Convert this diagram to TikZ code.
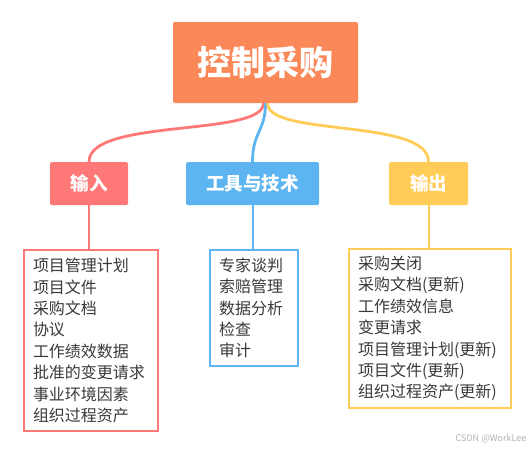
\documentclass[tikz,border=0pt]{standalone}
\usepackage{fontspec}
\setmainfont{Noto Sans CJK SC}
\usepackage{tikz}
\usepackage{xcolor}

\definecolor{mainorange}{HTML}{FA8858}
\definecolor{inred}{HTML}{FF7878}
\definecolor{toolblue}{HTML}{5CB5F0}
\definecolor{outyellow}{HTML}{FFCC58}
\definecolor{textgray}{HTML}{3A3A3A}

\begin{document}
\begin{tikzpicture}[x=1pt, y=-1pt,
  catbox/.style={fill=#1, text=white, font=\fontsize{18.5}{20}\selectfont\bfseries,
    minimum height=43pt, inner sep=0pt, rounded corners=1.5pt},
  listbox/.style={draw=#1, line width=2pt, fill=white, anchor=north west, align=left,
    inner xsep=9pt, inner ysep=0pt, text=textgray, font=\fontsize{16}{21.4}\selectfont},
  branch/.style={draw=#1, line width=2.8pt},
  stem/.style={draw=#1, line width=2pt}]
\useasboundingbox (0,0) rectangle (531,450);

% centre topic
\node[fill=mainorange, text=white, font=\fontsize{34}{36}\selectfont\bfseries,
  minimum width=185pt, minimum height=81pt, rounded corners=2pt] (main) at (265.5,62.5) {控制采购};

% the three categories
\foreach \name/\txt/\col/\x/\w in {input/输入/inred/89/78, tools/工具与技术/toolblue/252.5/133, output/输出/outyellow/428.5/79} {
  \node[catbox=\col, minimum width=\w pt] (\name) at (\x,183.5) {\txt};
}

% branches from the centre topic
\draw[branch=inred] ([xshift=-2pt]main.south) .. controls +(0,34) and +(0,-44) .. (input.north);
\draw[branch=toolblue] (main.south) .. controls +(0,28) and +(0,-30) .. (tools.north);
\draw[branch=outyellow] ([xshift=2pt]main.south) .. controls +(0,34) and +(0,-44) .. (output.north);

% item lists
\node[listbox=inred, text width=116pt, minimum height=181pt] (inlist) at (23,249)
  {项目管理计划\\项目文件\\采购文档\\协议\\工作绩效数据\\批准的变更请求\\事业环境因素\\组织过程资产};
\node[listbox=toolblue, text width=70pt, minimum height=116pt] (toollist) at (209,249)
  {专家谈判\\索赔管理\\数据分析\\检查\\审计};
\node[listbox=outyellow, text width=144pt, minimum height=159pt] (outlist) at (348,248)
  {采购关闭\\采购文档(更新)\\工作绩效信息\\变更请求\\项目管理计划(更新)\\项目文件(更新)\\组织过程资产(更新)};

% stems down to the lists
\draw[stem=inred] (input.south) -- (input.south |- inlist.north);
\draw[stem=toolblue] (tools.south) -- (tools.south |- toollist.north);
\draw[stem=outyellow] (output.south) -- (output.south |- outlist.north);

\node[text=gray!60, font=\fontsize{9}{10}\selectfont, inner sep=0pt] (mark) at (491,439) {CSDN @WorkLee};
\end{tikzpicture}
\end{document}
